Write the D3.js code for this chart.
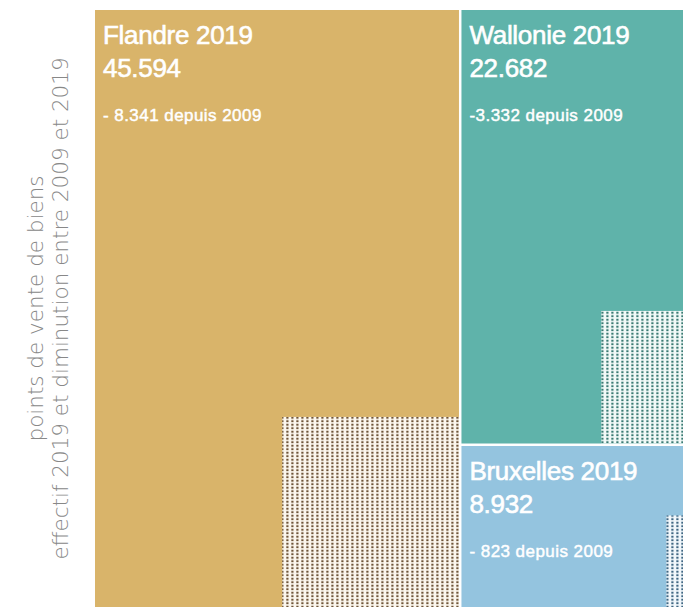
<!DOCTYPE html>
<html>
<head>
<meta charset="utf-8">
<script src="https://cdn.jsdelivr.net/npm/d3@7"></script>
<style>
  html, body { margin: 0; padding: 0; background: #fff; overflow: hidden; }
  svg { display: block; }
</style>
</head>
<body>
<div id="chart"></div>
<script>
// values
var regions = ["Flandre", "Wallonie", "Bruxelles"];
var effectif2019 = [45594, 22682, 8932];
var diminution = [8341, 3332, 823];
var diminutionPrefix = ["- ", "-", "- "];
var yTitle = ["points de vente de biens", "effectif 2019 et diminution entre 2009 et 2019"];

var fills = ["#d9b46a", "#5fb3aa", "#94c4df"];
var dotBg = ["#fcf7ee", "#f2faf8", "#f2f8fc"];
var dotInk = ["#6e5438", "#3a7a73", "#3f6682"];
var patchAspect = [0.93, 0.76, 0.39]; // width / height of the dotted patch

var W = 683, H = 607;
var margin = {left: 95, top: 10};
var innerW = 607, innerH = 597; // runs past the right edge of the frame

var fmt = d3.formatLocale({decimal: ",", thousands: ".", grouping: [3], currency: ["", " €"]}).format(",");

var svg = d3.select("#chart").append("svg")
    .attr("width", W)
    .attr("height", H);

var defs = svg.append("defs");
regions.forEach(function(r, i){
    var p = defs.append("pattern")
        .attr("id", "dots" + i)
        .attr("patternUnits", "userSpaceOnUse")
        .attr("width", 5)
        .attr("height", 3.5);
    p.append("rect").attr("width", 5).attr("height", 3.5).attr("fill", dotBg[i]);
    p.append("rect").attr("x", 1.3).attr("y", 0.7).attr("width", 2.2).attr("height", 2).attr("fill", dotInk[i]);
});

// tiles sized on the 2009 stock, the dotted part is what was lost since
var leaves = regions.map(function(r, i){
    return {name: r, i: i, v2019: effectif2019[i], loss: diminution[i], value: effectif2019[i] + diminution[i]};
});
var root = d3.hierarchy({children: [leaves[0], {children: [leaves[1], leaves[2]]}]})
    .sum(function(d){ return d.value || 0; });

d3.treemap()
    .tile(d3.treemapSliceDice)
    .size([innerW, innerH])
    .paddingInner(2.5)(root);

var g = svg.append("g").attr("transform", "translate(" + margin.left + "," + margin.top + ")");

var cell = g.selectAll("g.cell")
    .data(root.leaves())
    .enter().append("g")
    .attr("class", "cell");

cell.append("rect")
    .attr("x", function(d){ return d.x0; })
    .attr("y", function(d){ return d.y0; })
    .attr("width", function(d){ return d.x1 - d.x0; })
    .attr("height", function(d){ return d.y1 - d.y0; })
    .attr("fill", function(d){ return fills[d.data.i]; });

// dotted patch in the lower right corner, area = share lost
cell.append("rect")
    .each(function(d){
        var area = (d.x1 - d.x0) * (d.y1 - d.y0) * d.data.loss / d.data.value;
        var a = patchAspect[d.data.i];
        d.ph = Math.sqrt(area / a);
        d.pw = d.ph * a;
    })
    .attr("x", function(d){ return d.x1 - d.pw; })
    .attr("y", function(d){ return d.y1 - d.ph; })
    .attr("width", function(d){ return d.pw; })
    .attr("height", function(d){ return d.ph; })
    .attr("fill", function(d){ return "url(#dots" + d.data.i + ")"; });

function label(sel, dy, size, spacing, txt){
    sel.append("text")
        .attr("x", function(d){ return d.x0 + 8; })
        .attr("y", function(d){ return d.y0 + dy; })
        .attr("fill", "#fff")
        .attr("stroke", "#fff")
        .attr("stroke-width", size > 20 ? 0.6 : 0.45)
        .style("font-family", "'Liberation Sans', Arial, sans-serif")
        .style("font-size", size + "px")
        .style("letter-spacing", spacing + "px")
        .text(txt);
}
label(cell, 34, 26, -0.3, function(d){ return d.data.name + " 2019"; });
label(cell, 67, 26, -0.3, function(d){ return fmt(d.data.v2019); });
label(cell, 111, 17, 0.45, function(d){ return diminutionPrefix[d.data.i] + fmt(d.data.loss) + " depuis 2009"; });

// y title, two lines
var title = svg.append("text")
    .attr("transform", "translate(0," + (margin.top + innerH / 2) + ") rotate(-90)")
    .attr("text-anchor", "middle")
    .attr("fill", "#888")
    .style("font-family", "'DejaVu Sans', sans-serif")
    .style("font-weight", 200)
    .style("font-size", "21.5px");

title.selectAll("tspan")
    .data(yTitle)
    .enter().append("tspan")
    .attr("x", 0)
    .attr("y", function(d, i){ return 43 + i * 24.5; })
    .text(function(d){ return d; });
</script>
</body>
</html>
